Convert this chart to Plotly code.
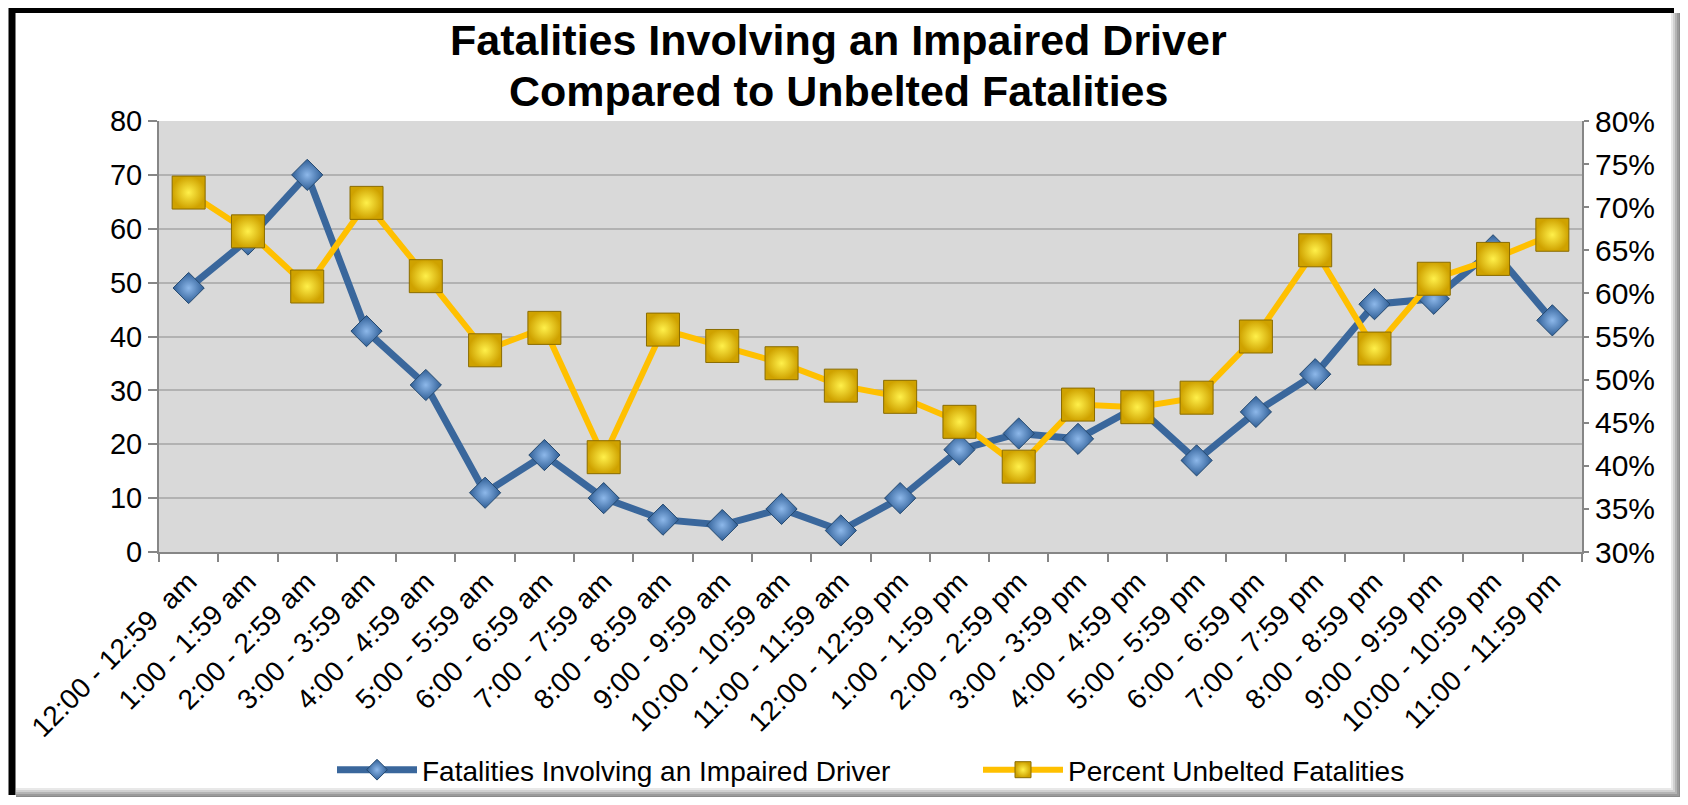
import plotly.graph_objects as go

# hour ranges (x categories)
hours = [
    "12:00 - 12:59  am", "1:00 - 1:59 am", "2:00 - 2:59 am", "3:00 - 3:59 am",
    "4:00 - 4:59 am", "5:00 - 5:59 am", "6:00 - 6:59 am", "7:00 - 7:59 am",
    "8:00 - 8:59 am", "9:00 - 9:59 am", "10:00 - 10:59 am", "11:00 - 11:59 am",
    "12:00 - 12:59 pm", "1:00 - 1:59 pm", "2:00 - 2:59 pm", "3:00 - 3:59 pm",
    "4:00 - 4:59 pm", "5:00 - 5:59 pm", "6:00 - 6:59 pm", "7:00 - 7:59 pm",
    "8:00 - 8:59 pm", "9:00 - 9:59 pm", "10:00 - 10:59 pm", "11:00 - 11:59 pm",
]

impaired = [49, 58, 70, 41, 31, 11, 18, 10, 6, 5, 8, 4,
            10, 19, 22, 21, 27, 17, 26, 33, 46, 47, 56, 43]

unbelted_pct = [0.717, 0.672, 0.608, 0.705, 0.620, 0.534, 0.560, 0.410, 0.558, 0.539, 0.519, 0.493,
                0.480, 0.451, 0.399, 0.471, 0.468, 0.479, 0.550, 0.650, 0.536, 0.617, 0.640, 0.668]

title_lines = ["Fatalities Involving an Impaired Driver", "Compared to Unbelted Fatalities"]

# page has an 8px body margin, so the figure is sized to fit inside the window
OFF = 8
W, H = 1688 - 2 * OFF, 805 - 2 * OFF
# plot box in window pixels
PL, PR, PT, PB = 159, 1582, 121, 552
ML, MR, MT, MB = PL - OFF, (1688 - OFF) - PR, PT - OFF, (805 - OFF) - PB
PW, PH = PR - PL, PB - PT


def px(x):
    return (x - PL) / PW


def py(y):
    return (PB - y) / PH


FONT = "Liberation Sans, Arial, sans-serif"
AXIS = "#868686"

fig = go.Figure()
fig.add_trace(go.Scatter(
    x=hours, y=impaired, name="Fatalities Involving an Impaired Driver",
    mode="lines+markers",
    line=dict(color="#3A679C", width=7),
    marker=dict(symbol="diamond", size=24, color="#2F5E96",
                gradient=dict(type="radial", color="#8DB8EA"),
                line=dict(color="#24496F", width=1)),
))
fig.add_trace(go.Scatter(
    x=hours, y=unbelted_pct, name="Percent Unbelted Fatalities", yaxis="y2",
    mode="lines+markers",
    line=dict(color="#FFC000", width=6),
    marker=dict(symbol="square", size=33, color="#CFA200",
                gradient=dict(type="radial", color="#FFF04A"),
                line=dict(color="#8A6C00", width=1)),
))

# frame round the chart: black top/left, grey shadow right/bottom
shapes = [
    dict(type="line", xref="paper", yref="paper", x0=px(12), x1=px(12), y0=py(6), y1=py(795),
         line=dict(color="black", width=7)),
    dict(type="line", xref="paper", yref="paper", x0=px(9), x1=px(1674), y0=py(10), y1=py(10),
         line=dict(color="black", width=6)),
]
for off, col in [(0, "#E8E8E8"), (2, "#D0D0D0"), (4, "#B4B4B4"), (6, "#9A9A9A"), (8, "#8A8A8A")]:
    shapes.append(dict(type="line", xref="paper", yref="paper",
                       x0=px(1672 + off), x1=px(1672 + off), y0=py(13), y1=py(805),
                       line=dict(color=col, width=2)))
    shapes.append(dict(type="line", xref="paper", yref="paper",
                       x0=px(16), x1=px(1688), y0=py(789 + off), y1=py(789 + off),
                       line=dict(color=col, width=2)))

# two-line title as annotations so the line spacing can be set
annotations = [
    dict(text=f"<b>{t}</b>", xref="paper", yref="paper", x=px(838), y=py(yc),
         xanchor="center", yanchor="middle", showarrow=False,
         font=dict(family=FONT, size=43, color="black"))
    for t, yc in zip(title_lines, [40, 91])
]

fig.update_layout(
    width=W, height=H,
    margin=dict(l=ML, r=MR, t=MT, b=MB, autoexpand=False),
    paper_bgcolor="white",
    plot_bgcolor="#D9D9D9",
    font=dict(family=FONT, size=29, color="black"),
    xaxis=dict(type="category", range=[-0.5, len(hours) - 0.5], tickangle=-45,
               showline=True, linecolor=AXIS, linewidth=2,
               ticks="outside", tickson="boundaries", ticklen=8, tickcolor=AXIS, tickwidth=2,
               showgrid=False, tickfont=dict(size=28)),
    yaxis=dict(range=[0, 80], dtick=10, showline=True, linecolor=AXIS, linewidth=2,
               ticks="outside", ticklen=9, tickcolor=AXIS, tickwidth=2,
               gridcolor="#B2B2B2", gridwidth=2, zeroline=False, tickfont=dict(size=29)),
    yaxis2=dict(range=[0.30, 0.80], dtick=0.05, tickformat=".0%", overlaying="y", side="right",
                showline=True, linecolor=AXIS, linewidth=2, ticks="outside", ticklen=5,
                tickcolor=AXIS, tickwidth=2, showgrid=False, zeroline=False, tickfont=dict(size=30)),
    legend=dict(orientation="h", x=px(332), xanchor="left", y=py(770), yanchor="middle",
                font=dict(size=28), bgcolor="rgba(0,0,0,0)", itemwidth=80, entrywidth=551),
    shapes=shapes,
    annotations=annotations,
    showlegend=True,
)

fig.write_html("out.html")
